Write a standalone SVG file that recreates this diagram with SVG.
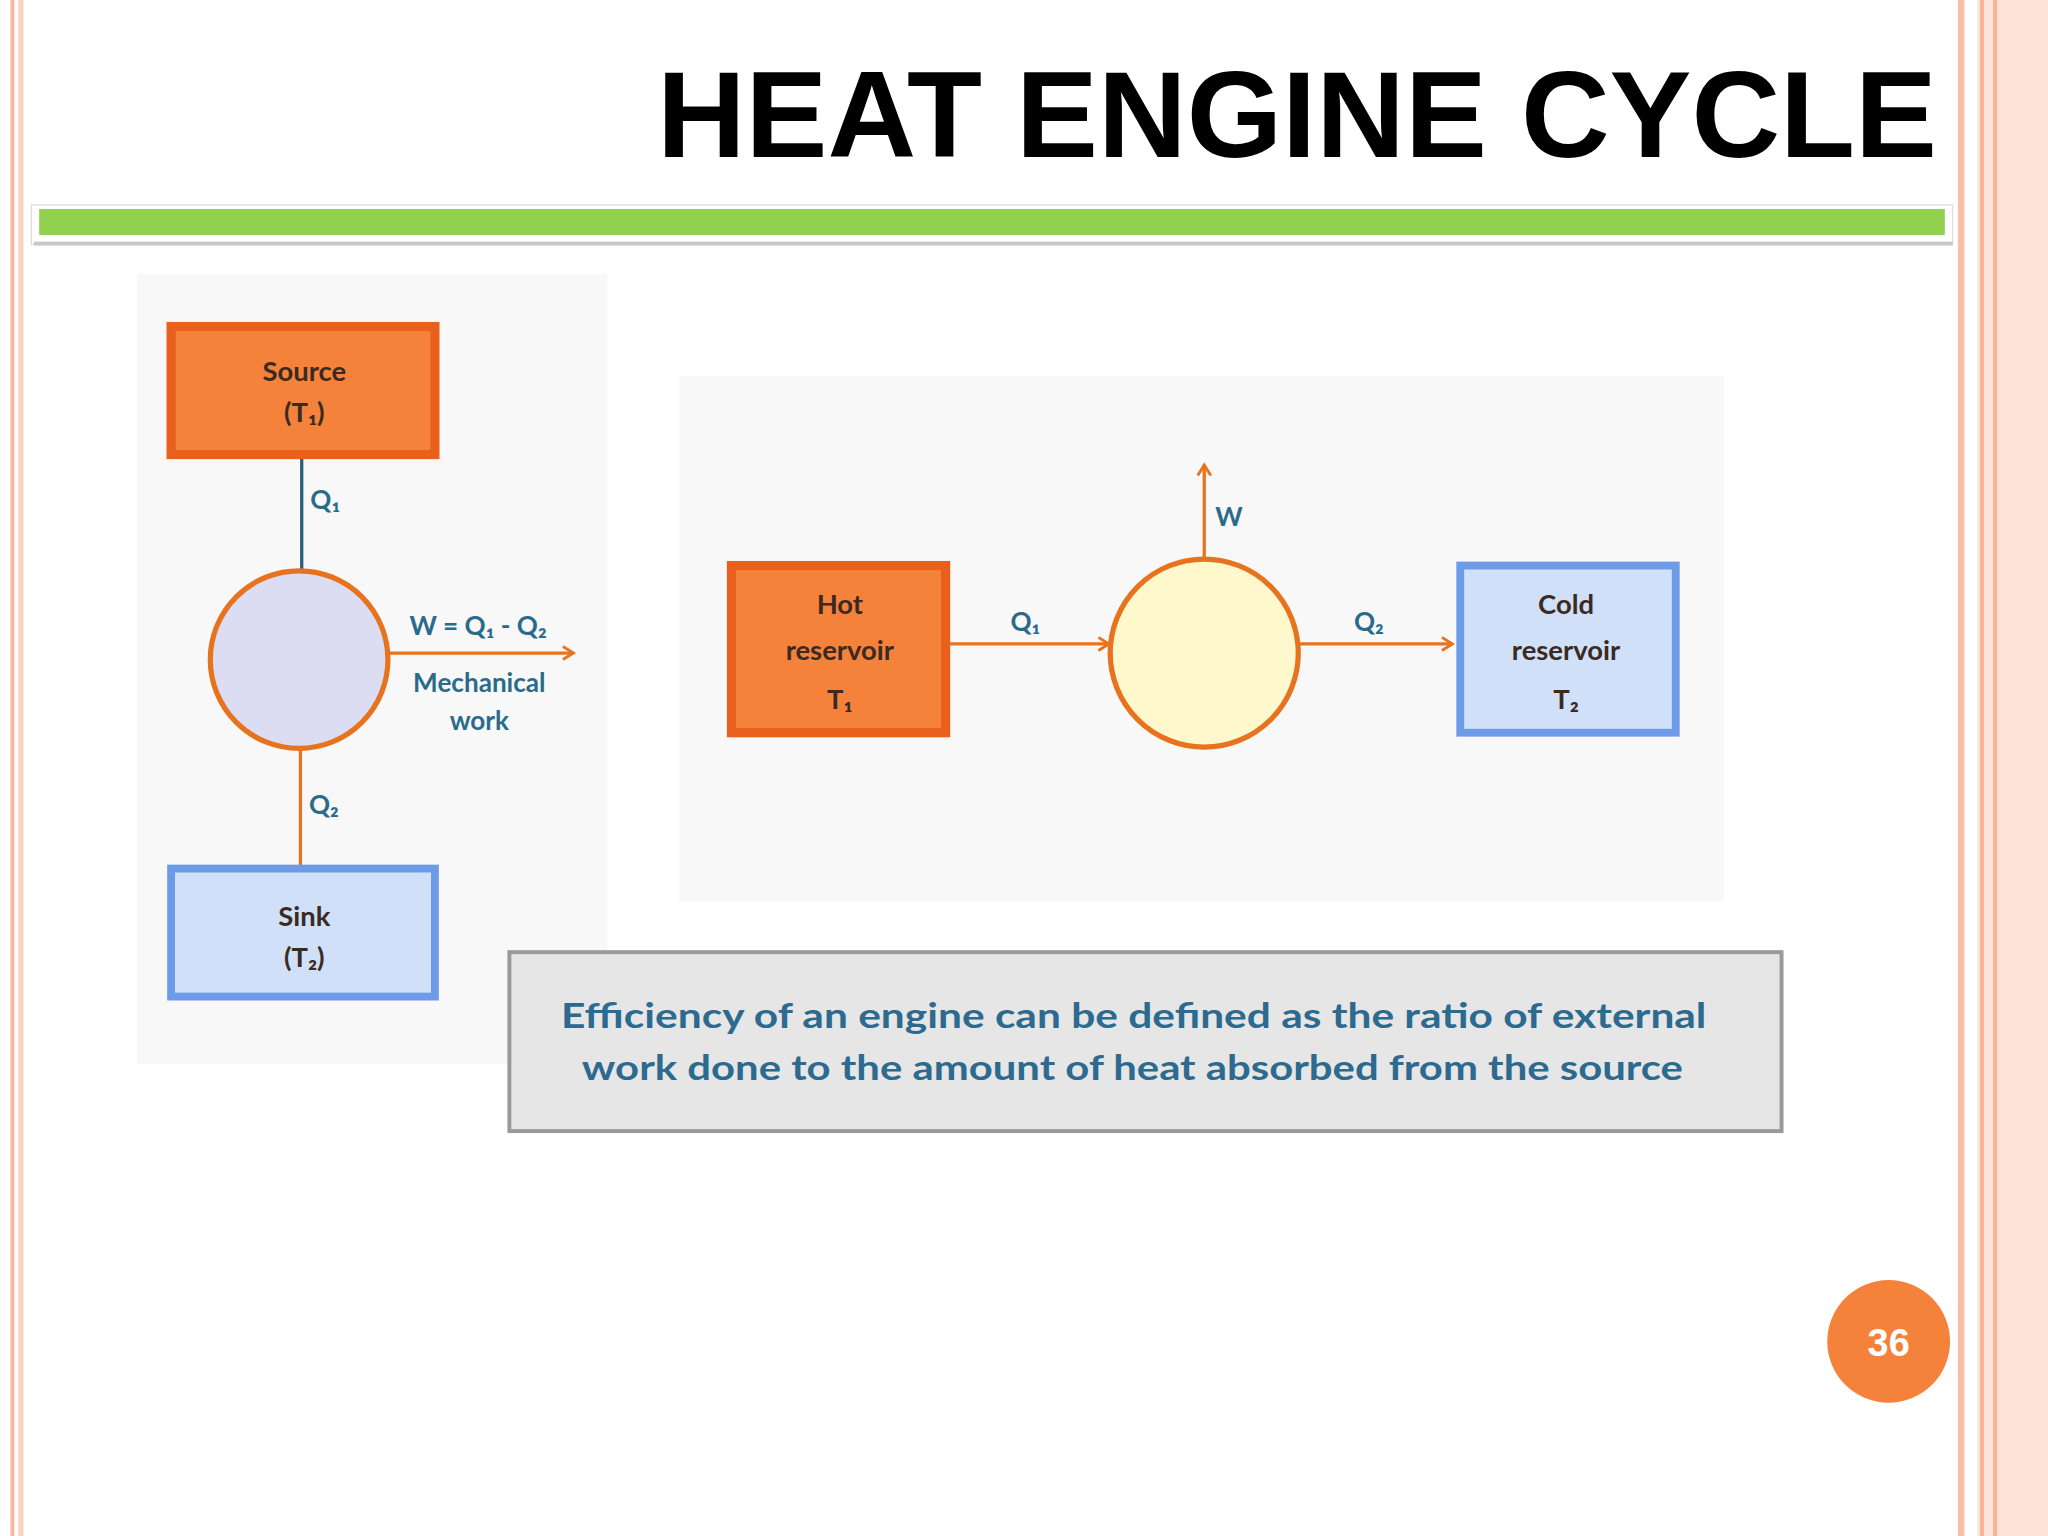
<svg xmlns="http://www.w3.org/2000/svg" width="2048" height="1536" viewBox="0 0 2048 1536">
<defs>
<marker id="ao" markerWidth="12" markerHeight="12" refX="9" refY="6" orient="auto" markerUnits="userSpaceOnUse"><path d="M1,1 L9,6 L1,11" fill="none" stroke="#e8731e" stroke-width="2.2"/></marker>
<marker id="ab" markerWidth="12" markerHeight="12" refX="9" refY="6" orient="auto" markerUnits="userSpaceOnUse"><path d="M1,1 L9,6 L1,11" fill="none" stroke="#2a5f7a" stroke-width="2.2"/></marker>
</defs>
<style>
.t{font-family:"Lato","Noto Sans","Liberation Sans",sans-serif;font-weight:bold;text-anchor:middle}
.dk{fill:#3a2a22;font-size:21px}
.tl{fill:#2a6a8a;font-size:20px}
.hot{fill:#f4823a;stroke:#e8601c;stroke-width:7}
.cold{fill:#cfe0f8;stroke:#6e9be8;stroke-width:6}
.or{stroke:#e8731e;stroke-width:2.5;fill:none}
</style>
<rect width="2048" height="1536" fill="#fff"/>
<g transform="scale(1.30612)">
<!-- borders -->
<rect x="8" y="0" width="3" height="1176" fill="#f8b8a0"/>
<rect x="14" y="0" width="4" height="1176" fill="#fbd0bf"/>
<rect x="1499" y="0" width="5" height="1176" fill="#f8c0a8"/>
<rect x="1514" y="0" width="54" height="1176" fill="#fde3d8"/>
<rect x="1516" y="0" width="3" height="1176" fill="#f7b49a"/>
<rect x="1526" y="0" width="3" height="1176" fill="#f7b49a"/>
<text x="1483" y="120" font-family="Liberation Sans, Arial, sans-serif" font-weight="bold" font-size="94" text-anchor="end" fill="#000">HEAT ENGINE CYCLE</text>
<rect x="24" y="157" width="1471" height="30" fill="#fff" stroke="#ddd" stroke-width="1"/>
<rect x="26" y="185" width="1469" height="3" fill="#c8c8c8"/>
<rect x="30" y="160" width="1459" height="20" fill="#92d050"/>
<!-- backdrops -->
<rect x="105" y="210" width="360" height="605" fill="#f8f8f8"/>
<rect x="520" y="288" width="800" height="402" fill="#f8f8f8"/>
<g id="connectors">
<line x1="231" y1="351" x2="231" y2="460" stroke="#2a5f7a" stroke-width="2.5" marker-end="url(#ab)"/>
<line x1="297" y1="500" x2="439" y2="500" class="or" marker-end="url(#ao)"/>
<line x1="230" y1="573" x2="230" y2="687" class="or" marker-end="url(#ao)"/>
<line x1="727" y1="493" x2="849" y2="493" class="or" marker-end="url(#ao)"/>
<line x1="922" y1="427" x2="922" y2="356" class="or" marker-end="url(#ao)"/>
<line x1="995" y1="493" x2="1112" y2="493" class="or" marker-end="url(#ao)"/>
<text x="249" y="390" class="t tl" font-size="18">Q₁</text>
<text x="366" y="486" class="t tl">W = Q₁ - Q₂</text>
<text x="367" y="530" class="t tl">Mechanical</text>
<text x="367" y="559" class="t tl">work</text>
<text x="248" y="623" class="t tl" font-size="18">Q₂</text>
<text x="785" y="483" class="t tl">Q₁</text>
<text x="941" y="403" class="t tl">W</text>
<text x="1048" y="483" class="t tl">Q₂</text>
</g>
<g id="source"><rect x="131" y="250" width="202" height="98" class="hot"/>
<text x="233" y="292" class="t dk">Source</text><text x="233" y="323" class="t dk">(T₁)</text></g>
<g id="engine1"><circle cx="229" cy="505" r="68" fill="#dcdcf2" stroke="#e8731e" stroke-width="4"/></g>
<g id="sink"><rect x="131" y="665" width="202" height="98" class="cold"/>
<text x="233" y="709" class="t dk">Sink</text><text x="233" y="740" class="t dk">(T₂)</text></g>
<g id="hot"><rect x="560" y="433" width="164" height="128" class="hot"/>
<text x="643" y="470" class="t dk" font-size="23">Hot</text><text x="643" y="505" class="t dk" font-size="23">reservoir</text><text x="643" y="543" class="t dk" font-size="23">T₁</text></g>
<g id="engine2"><circle cx="922" cy="500" r="72" fill="#fff8cc" stroke="#e8731e" stroke-width="4"/></g>
<g id="cold"><rect x="1118" y="433" width="165" height="128" class="cold"/>
<text x="1199" y="470" class="t dk" font-size="23">Cold</text><text x="1199" y="505" class="t dk" font-size="23">reservoir</text><text x="1199" y="543" class="t dk" font-size="23">T₂</text></g>
<g id="efficiency"><rect x="390" y="729" width="974" height="137" fill="#e6e6e6" stroke="#999" stroke-width="3"/>
<text x="868" y="787" class="t" fill="#2d6a8f" font-size="26" textLength="877" lengthAdjust="spacingAndGlyphs">Efficiency of an engine can be defined as the ratio of external</text>
<text x="867" y="827" class="t" fill="#2d6a8f" font-size="26" textLength="843" lengthAdjust="spacingAndGlyphs">work done to the amount of heat absorbed from the source</text></g>
<g id="page"><circle cx="1446" cy="1027" r="47" fill="#f5823a"/>
<text x="1446" y="1038" font-family="Liberation Sans, Arial, sans-serif" font-weight="bold" font-size="29" text-anchor="middle" fill="#fff">36</text></g>
</g>
</svg>
